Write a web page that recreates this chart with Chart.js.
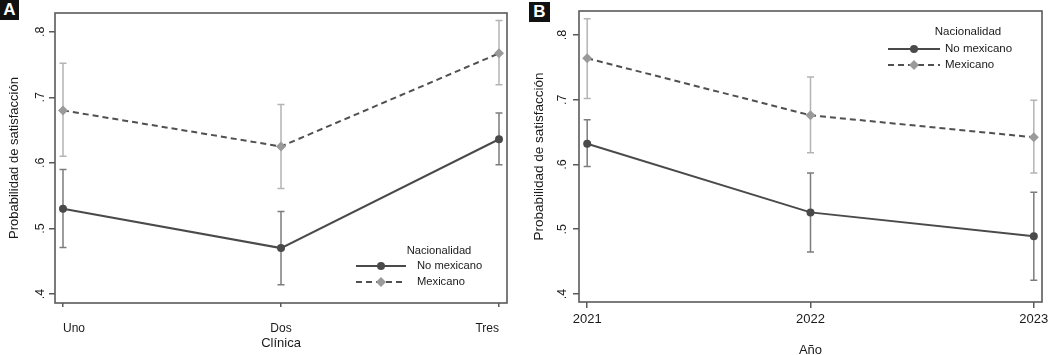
<!DOCTYPE html>
<html>
<head>
<meta charset="utf-8">
<script src="https://cdn.jsdelivr.net/npm/chart.js@4.4.1/dist/chart.umd.min.js"></script>
<style>
html,body{margin:0;padding:0;background:#fff;}
#wrap{position:relative;width:1053px;height:355px;overflow:hidden;background:#fff;}
.panel{position:absolute;top:0;height:355px;}
#pa{left:0;width:520px;}
#pb{left:520px;width:533px;}
.tag{position:absolute;background:#111;color:#fff;font:bold 17px "Liberation Sans",Arial,sans-serif;text-align:center;line-height:20px;height:20px;}
</style>
</head>
<body>
<div id="wrap">
  <div class="panel" id="pa"><canvas id="chartA" width="520" height="355"></canvas></div>
  <div class="panel" id="pb"><canvas id="chartB" width="533" height="355"></canvas></div>
  <div class="tag" style="left:0;top:0;width:19px;">A</div>
  <div class="tag" style="left:529px;top:2px;width:21px;">B</div>
</div>
<script>
// Panel A: by clinic
const clinicas=['Uno','Dos','Tres'];
const clinNoMex=[0.530,0.470,0.636];
const clinNoMexLo=[0.471,0.414,0.597];
const clinNoMexHi=[0.590,0.526,0.676];
const clinMex=[0.680,0.625,0.767];
const clinMexLo=[0.610,0.561,0.719];
const clinMexHi=[0.752,0.689,0.817];
// Panel B: by year
const anios=['2021','2022','2023'];
const anioNoMex=[0.632,0.526,0.489];
const anioNoMexLo=[0.597,0.465,0.421];
const anioNoMexHi=[0.669,0.587,0.557];
const anioMex=[0.764,0.676,0.642];
const anioMexLo=[0.702,0.618,0.587];
const anioMexHi=[0.825,0.735,0.699];

const yTicks=[0.4,0.5,0.6,0.7,0.8];
const serieNames=['No mexicano','Mexicano'];
const legendTitle='Nacionalidad';
const yTitle='Probabilidad de satisfacción';

Chart.defaults.font.family='"Liberation Sans", Arial, sans-serif';
Chart.defaults.color='#1a1a1a';

const FRAME='#5a5a5a';

// confidence intervals, drawn under the markers
const ciPlugin={id:'ci',beforeDatasetsDraw(chart){
  const ctx=chart.ctx,x=chart.scales.x,y=chart.scales.y;
  for(let d=chart.data.datasets.length-1;d>=0;d--){const ds=chart.data.datasets[d];
    ctx.save();ctx.strokeStyle=ds.ciColor;ctx.lineWidth=1.5;
    ds.data.forEach(function(p,i){
      const px=x.getPixelForValue(p.x),t=y.getPixelForValue(ds.ciHi[i]),b=y.getPixelForValue(ds.ciLo[i]);
      ctx.beginPath();ctx.moveTo(px,t);ctx.lineTo(px,b);
      ctx.moveTo(px-3.5,t);ctx.lineTo(px+3.5,t);ctx.moveTo(px-3.5,b);ctx.lineTo(px+3.5,b);ctx.stroke();
    });ctx.restore();}
}};

// plot frame + legend inside the plot
const framePlugin={id:'frame',afterDraw(chart,args,o){
  const ctx=chart.ctx,a=chart.chartArea;
  ctx.save();ctx.strokeStyle=FRAME;ctx.lineWidth=1.6;ctx.strokeRect(a.left,a.top,a.right-a.left,a.bottom-a.top);
  // legend
  const base=o.fromTop?a.top:a.bottom;
  ctx.font=o.fontSize+'px "Liberation Sans", Arial, sans-serif';ctx.fillStyle='#1a1a1a';ctx.textBaseline='middle';
  ctx.textAlign='center';ctx.fillText(legendTitle,a.right+o.titleX,base+o.rows[0]);
  ctx.textAlign='left';
  chart.data.datasets.forEach(function(ds,i){
    const ry=base+o.rows[i+1],x0=a.right+o.lineX0,x1=a.right+o.lineX1,cx=(x0+x1)/2,r=ds.pointRadius;
    ctx.strokeStyle=ds.borderColor;ctx.lineWidth=2;ctx.setLineDash(ds.borderDash||[]);
    ctx.beginPath();ctx.moveTo(x0,ry);ctx.lineTo(x1,ry);ctx.stroke();ctx.setLineDash([]);
    ctx.fillStyle=ds.pointBackgroundColor;ctx.beginPath();
    if(ds.pointStyle==='circle'){ctx.arc(cx,ry,r,0,Math.PI*2);}
    else{ctx.moveTo(cx-r,ry);ctx.lineTo(cx,ry-r);ctx.lineTo(cx+r,ry);ctx.lineTo(cx,ry+r);ctx.closePath();}
    ctx.fill();
    ctx.fillStyle='#1a1a1a';ctx.fillText(serieNames[i],a.right+o.textX,ry);
  });
  ctx.restore();
}};

function makeChart(id,cats,noMex,noLo,noHi,mex,mxLo,mxHi,o){
  const pts=function(arr){return arr.map(function(v,i){return {x:i,y:v};});};
  return new Chart(document.getElementById(id),{
    type:'line',
    data:{datasets:[
      {label:serieNames[0],data:pts(noMex),ciLo:noLo,ciHi:noHi,ciColor:'#7c7c7c',
       borderColor:'#4a4a4a',borderWidth:2,pointStyle:'circle',pointRadius:4,
       pointBackgroundColor:'#4a4a4a',pointBorderColor:'#4a4a4a',pointBorderWidth:0,tension:0},
      {label:serieNames[1],data:pts(mex),ciLo:mxLo,ciHi:mxHi,ciColor:'#b4b4b4',
       borderColor:'#505050',borderWidth:2,borderDash:[6,4],pointStyle:'rectRot',pointRadius:5,
       pointBackgroundColor:'#9a9a9a',pointBorderColor:'#9a9a9a',pointBorderWidth:0,tension:0}
    ]},
    options:{
      responsive:false,animation:false,devicePixelRatio:1,
      layout:{padding:{left:0,top:o.padTop,right:o.padRight,bottom:0}},
      plugins:{legend:{display:false},tooltip:{enabled:false},frame:o.legend},
      scales:{
        x:{type:'linear',min:-0.0367,max:2.0367,
          border:{display:false},
          grid:{drawOnChartArea:false,drawTicks:true,tickLength:o.xTick,color:FRAME,lineWidth:1.5},
          afterBuildTicks:function(s){s.ticks=cats.map(function(c,i){return {value:i};});},
          afterFit:function(s){s.height=o.xHeight;s.paddingLeft=0;s.paddingRight=0;},
          ticks:{align:o.xAlign,padding:o.xPad,maxRotation:0,autoSkip:false,font:{size:o.xFont},color:'#1a1a1a',
            callback:function(v){return cats[v];}},
          title:{display:true,text:o.xTitle,font:{size:13},color:'#1a1a1a',padding:{top:0,bottom:o.xTitlePad}}
        },
        y:{type:'linear',min:o.yMin,max:o.yMax,
          border:{display:false},
          grid:{drawOnChartArea:false,drawTicks:true,tickLength:6,color:FRAME,lineWidth:1.5},
          afterBuildTicks:function(s){s.ticks=yTicks.map(function(v){return {value:v};});},
          afterFit:function(s){s.width=o.yWidth;s.paddingTop=0;s.paddingBottom=0;},
          ticks:{minRotation:90,maxRotation:90,crossAlign:'center',padding:o.yPad,font:{size:12.5},color:'#1a1a1a',
            callback:function(v){return v.toFixed(1).replace(/^0/,'');}},
          title:{display:true,text:yTitle,font:{size:o.yTitleFont},color:'#1a1a1a',padding:{top:o.yTitlePad,bottom:0}}
        }
      }
    },
    plugins:[ciPlugin,framePlugin]
  });
}

makeChart('chartA',clinicas,clinNoMex,clinNoMexLo,clinNoMexHi,clinMex,clinMexLo,clinMexHi,{
  padTop:13,padRight:13,xHeight:52,yWidth:55,yMin:0.3863,yMax:0.8285,
  xTick:4,xPad:14,xAlign:'inner',xFont:12,xTitle:'Clínica',xTitlePad:4,
  yPad:3.5,yTitleFont:13,yTitlePad:7,
  legend:{fromTop:false,fontSize:11.2,titleX:-68,lineX0:-151,lineX1:-101,textX:-90,rows:[-52,-37,-21]}
});
makeChart('chartB',anios,anioNoMex,anioNoMexLo,anioNoMexHi,anioMex,anioMexLo,anioMexHi,{
  padTop:11,padRight:11,xHeight:53,yWidth:59,yMin:0.3876,yMax:0.837,
  xTick:6,xPad:4,xAlign:'center',xFont:13,xTitle:'Año',xTitlePad:-3,
  yPad:5,yTitleFont:13.5,yTitlePad:11,
  legend:{fromTop:true,fontSize:11.5,titleX:-74,lineX0:-154,lineX1:-102,textX:-97,rows:[21,38,54]}
});
</script>
</body>
</html>
